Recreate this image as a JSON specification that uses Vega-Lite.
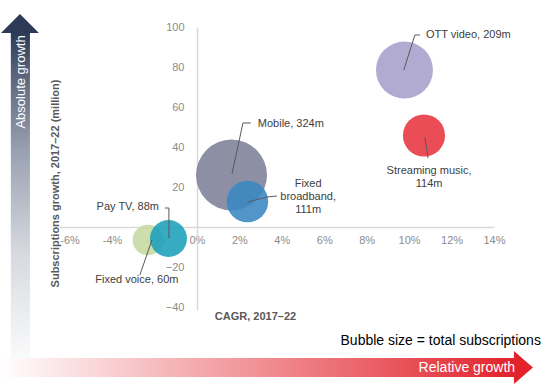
{
  "$schema": "https://vega.github.io/schema/vega-lite/v6.json",
  "width": 435,
  "height": 283,
  "autosize": "none",
  "padding": {"left": 59, "top": 27, "right": 49, "bottom": 81},
  "background": "white",
  "config": {"view": {"stroke": null}, "font": "Liberation Sans"},
  "datasets": {
    "bubbles": [
      {"service": "Mobile", "cagr": 1.63, "growth": 26, "subs": 324},
      {"service": "OTT video", "cagr": 9.78, "growth": 78.5, "subs": 209},
      {"service": "Streaming music", "cagr": 10.7, "growth": 45.75, "subs": 114},
      {"service": "Fixed broadband", "cagr": 2.38, "growth": 12.75, "subs": 111},
      {"service": "Fixed voice", "cagr": -2.31, "growth": -6.5, "subs": 60},
      {"service": "Pay TV", "cagr": -1.34, "growth": -5.75, "subs": 88}
    ],
    "labels": [
      {"text": "OTT video, 209m", "x": 10.79, "y": 96, "pos": "left"},
      {"text": "Mobile, 324m", "x": 2.87, "y": 51.5, "pos": "left"},
      {"text": "Streaming music,\n114m", "x": 10.94, "y": 31.25, "pos": "center"},
      {"text": "Fixed\nbroadband,\n111m", "x": 5.24, "y": 24.75, "pos": "center"},
      {"text": "Pay TV, 88m", "x": -1.79, "y": 10, "pos": "right"},
      {"text": "Fixed voice, 60m", "x": -2.83, "y": -23.5, "pos": "center"}
    ],
    "leaders": [
      {"x": 9.75, "y": 78.5, "x2": 10.27, "y2": 96},
      {"x": 10.27, "y": 96, "x2": 10.51, "y2": 96},
      {"x": 1.65, "y": 26.5, "x2": 2.17, "y2": 52},
      {"x": 2.17, "y": 52, "x2": 2.54, "y2": 52},
      {"x": 10.74, "y": 45, "x2": 10.89, "y2": 34.5},
      {"x": 2.4, "y": 12.5, "x2": 3.3, "y2": 15},
      {"x": 3.3, "y": 15, "x2": 3.77, "y2": 15.5},
      {"x": -1.51, "y": 9.5, "x2": -1.32, "y2": 9.5},
      {"x": -1.32, "y": 9.5, "x2": -1.32, "y2": -5.5},
      {"x": -2.69, "y": -24, "x2": -2.12, "y2": -6.5}
    ],
    "one": [{}]
  },
  "layer": [
    {
      "data": {"name": "one"},
      "mark": {"type": "rect", "fill": {"gradient": "linear", "x1": 0, "y1": 0, "x2": 0, "y2": 1, "stops": [{"offset": 0, "color": "#2c3a57"}, {"offset": 0.12, "color": "#59647c"}, {"offset": 0.35, "color": "#9aa1b1"}, {"offset": 0.65, "color": "#d6d9df"}, {"offset": 1, "color": "#ffffff"}]}},
      "encoding": {
        "x": {"datum": -8.77}, "x2": {"datum": -7.87},
        "y": {"datum": 97}, "y2": {"datum": -72.5}
      }
    },
    {
      "data": {"name": "one"},
      "mark": {"type": "point", "shape": "M-1,0L0,-1L1,0Z", "size": 1444, "filled": true, "color": "#2c3a57", "opacity": 1, "strokeWidth": 0},
      "encoding": {"x": {"datum": -8.34}, "y": {"datum": 97}}
    },
    {
      "data": {"name": "one"},
      "mark": {"type": "rect", "fill": {"gradient": "linear", "x1": 0, "y1": 0, "x2": 1, "y2": 0, "stops": [{"offset": 0, "color": "#ffffff"}, {"offset": 1, "color": "#e2232c"}]}},
      "encoding": {
        "x": {"datum": -9.3}, "x2": {"datum": 14.95},
        "y": {"datum": -65.5}, "y2": {"datum": -75}
      }
    },
    {
      "data": {"name": "one"},
      "mark": {"type": "point", "shape": "M0,-1L1.15,0L0,1Z", "size": 1089, "filled": true, "color": "#e2232c", "opacity": 1, "strokeWidth": 0},
      "encoding": {"x": {"datum": 14.94}, "y": {"datum": -70.25}}
    },
    {
      "data": {"name": "one"},
      "mark": {"type": "text", "text": "Absolute growth", "angle": 270, "color": "#ffffff", "fontSize": 13, "align": "center", "baseline": "middle"},
      "encoding": {"x": {"datum": -8.3}, "y": {"datum": 72.5}}
    },
    {
      "data": {"name": "one"},
      "mark": {"type": "text", "text": "Relative growth", "color": "#ffffff", "fontSize": 14, "align": "center", "baseline": "middle"},
      "encoding": {"x": {"datum": 12.72}, "y": {"datum": -70.5}}
    },
    {
      "data": {"name": "one"},
      "mark": {"type": "text", "text": "Bubble size = total subscriptions", "color": "#000000", "fontSize": 14, "align": "right", "baseline": "middle"},
      "encoding": {"x": {"datum": 16.21}, "y": {"datum": -57}}
    },
    {
      "data": {"name": "bubbles"},
      "mark": {"type": "circle", "opacity": 0.88},
      "encoding": {
        "x": {
          "field": "cagr", "type": "quantitative",
          "scale": {"domain": [-6.5, 14], "nice": false, "zero": false},
          "axis": {
            "orient": "bottom", "offset": -83,
            "values": [-6, -4, -2, 0, 2, 4, 6, 8, 10, 12, 14],
            "labelExpr": "datum.value + '%'",
            "ticks": false, "grid": false,
            "domainColor": "#d9d9d9", "domainWidth": 1.5,
            "labelColor": "#8c8c8c", "labelFontSize": 11, "labelPadding": 7,
            "labelFlush": false, "labelOverlap": false,
            "title": "CAGR, 2017–22", "titleFontSize": 11, "titleFontWeight": "bold",
            "titleColor": "#595959", "titleX": 196, "titleY": 89,
            "titleAlign": "center", "titleBaseline": "middle"
          }
        },
        "y": {
          "field": "growth", "type": "quantitative",
          "scale": {"domain": [-41.5, 100], "nice": false, "zero": false},
          "axis": {
            "orient": "left", "offset": -138,
            "values": [-40, -20, 20, 40, 60, 80, 100],
            "format": "d",
            "ticks": false, "grid": false,
            "domainColor": "#d9d9d9", "domainWidth": 1.5,
            "labelColor": "#8c8c8c", "labelFontSize": 11, "labelPadding": 13,
            "labelOverlap": false,
            "title": "Subscriptions growth, 2017–22 (million)", "titleFontSize": 11,
            "titleFontWeight": "bold", "titleColor": "#595959",
            "titleX": -142, "titleY": 156, "titleAngle": 270,
            "titleAlign": "center", "titleBaseline": "middle"
          }
        },
        "size": {"field": "subs", "type": "quantitative", "scale": {"domain": [0, 324], "range": [0, 5041]}, "legend": null},
        "color": {
          "field": "service", "type": "nominal", "legend": null,
          "scale": {
            "domain": ["Mobile", "OTT video", "Streaming music", "Fixed broadband", "Fixed voice", "Pay TV"],
            "range": ["#7d8197", "#a69fcc", "#e8343f", "#3a87c2", "#c6d8a0", "#1a9fba"]
          }
        }
      }
    },
    {
      "data": {"name": "leaders"},
      "mark": {"type": "rule", "color": "#595959", "strokeWidth": 1},
      "encoding": {
        "x": {"field": "x", "type": "quantitative"},
        "y": {"field": "y", "type": "quantitative"},
        "x2": {"field": "x2"},
        "y2": {"field": "y2"}
      }
    },
    {
      "data": {"name": "labels"},
      "transform": [{"filter": "datum.pos === 'left'"}],
      "mark": {"type": "text", "align": "left", "baseline": "middle", "fontSize": 11, "color": "#404040"},
      "encoding": {
        "x": {"field": "x", "type": "quantitative"},
        "y": {"field": "y", "type": "quantitative"},
        "text": {"field": "text"}
      }
    },
    {
      "data": {"name": "labels"},
      "transform": [{"filter": "datum.pos === 'right'"}],
      "mark": {"type": "text", "align": "right", "baseline": "middle", "fontSize": 11, "color": "#404040"},
      "encoding": {
        "x": {"field": "x", "type": "quantitative"},
        "y": {"field": "y", "type": "quantitative"},
        "text": {"field": "text"}
      }
    },
    {
      "data": {"name": "labels"},
      "transform": [{"filter": "datum.pos === 'center'"}],
      "mark": {"type": "text", "align": "center", "baseline": "top", "fontSize": 11, "lineHeight": 13, "lineBreak": "\n", "color": "#404040"},
      "encoding": {
        "x": {"field": "x", "type": "quantitative"},
        "y": {"field": "y", "type": "quantitative"},
        "text": {"field": "text"}
      }
    }
  ]
}
